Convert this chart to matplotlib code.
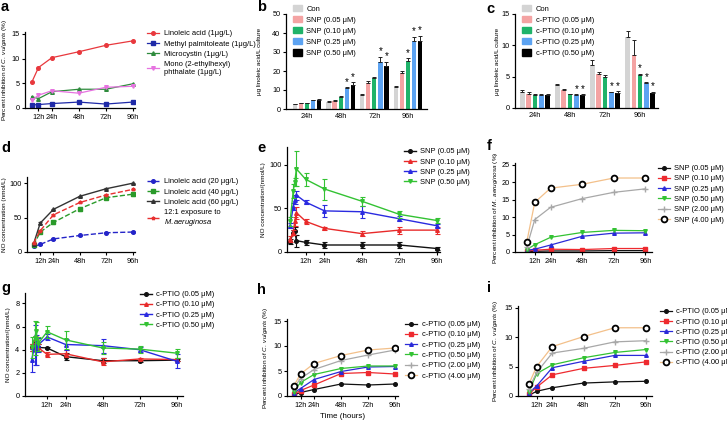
import numpy as np
import matplotlib
matplotlib.use('Agg')
import matplotlib.pyplot as plt
from matplotlib.patches import Patch

plt.rcParams['font.family'] = ['Liberation Sans', 'DejaVu Sans']
plt.rcParams['mathtext.fontset'] = 'custom'
plt.rcParams['mathtext.it'] = 'Liberation Sans:italic'
plt.rcParams['mathtext.rm'] = 'Liberation Sans'

W, H = 727, 421

# ---- data ----
hours = [12, 24, 48, 72, 96]
hour_labels = ['12h', '24h', '48h', '72h', '96h']
t6 = [6, 12, 24, 48, 72, 96]                 # sampling times for a, d, f, h, i
t_fast = [2, 4, 5, 6, 12, 24, 48, 72, 96]    # sampling times for e, g
bar_groups = ['24h', '48h', '72h', '96h']

# a: percent inhibition of C. vulgaris
a_labels = ['Linoleic acid (1μg/L)', 'Methyl palmitoleate (1μg/L)', 'Microcystin (1μg/L)',
            'Mono (2-ethylhexyl)\nphthalate (1μg/L)']
a_vals = [[5.2, 8.2, 10.2, 11.4, 12.7, 13.6],
          [0.6, 0.7, 0.9, 1.2, 0.8, 1.2],
          [2.3, 1.9, 3.3, 3.8, 3.8, 4.9],
          [1.6, 2.6, 3.5, 3.0, 4.2, 4.4]]

# b: linoleic acid with SNP
b_labels = ['Con', 'SNP (0.05 μM)', 'SNP (0.10 μM)', 'SNP (0.25 μM)', 'SNP (0.50 μM)']
b_vals = [[2.5, 3.8, 7.3, 11.5],
          [3.0, 4.2, 13.5, 19.0],
          [3.0, 6.3, 16.5, 25.5],
          [4.5, 11.0, 25.0, 36.0],
          [4.5, 12.5, 22.5, 36.0]]
b_errs = [[0.3, 0.4, 0.4, 0.8],
          [0.3, 0.3, 1.0, 0.8],
          [0.3, 0.3, 0.4, 1.3],
          [0.5, 0.5, 2.5, 2.0],
          [0.8, 1.5, 2.5, 2.5]]
b_stars = [(1, 3), (1, 4), (2, 3), (2, 4), (3, 2), (3, 3), (3, 4)]

# c: linoleic acid with c-PTIO
c_labels = ['Con', 'c-PTIO (0.05 μM)', 'c-PTIO (0.10 μM)', 'c-PTIO (0.25 μM)', 'c-PTIO (0.50 μM)']
c_vals = [[2.6, 3.7, 6.8, 11.3],
          [2.3, 2.9, 5.5, 8.5],
          [2.1, 2.2, 4.9, 5.3],
          [2.0, 2.1, 2.5, 4.0],
          [2.0, 2.1, 2.4, 2.4]]
c_errs = [[0.2, 0.2, 0.9, 1.0],
          [0.2, 0.1, 0.2, 2.3],
          [0.1, 0.1, 0.3, 0.2],
          [0.2, 0.1, 0.1, 0.1],
          [0.3, 0.1, 0.3, 0.2]]
c_stars = [(1, 3), (1, 4), (2, 3), (2, 4), (3, 2), (3, 3), (3, 4)]

# d: NO concentration with linoleic acid
d_labels = ['Linoleic acid (20 μg/L)', 'Linoleic acid (40 μg/L)', 'Linoleic acid (60 μg/L)',
            '12:1 exposure to\n$\\it{M.aeruginosa}$']
d_vals = [[8, 11, 19, 24, 28, 29],
          [10, 29, 43, 63, 79, 84],
          [12, 42, 62, 81, 92, 100],
          [13, 31, 54, 72, 83, 91]]
d_errs = [[1, 1, 1, 1, 1, 1],
          [2, 2, 2, 3, 2, 3],
          [1, 1, 1, 1, 1, 1],
          [1, 1, 1, 1, 1, 1]]

# e: NO concentration with SNP
e_labels = ['SNP (0.05 μM)', 'SNP (0.10 μM)', 'SNP (0.25 μM)', 'SNP (0.50 μM)']
e_vals = [[12, 22, 24, 13, 11, 8, 8, 8, 4],
          [15, 22, 35, 45, 35, 27, 21, 25, 25],
          [30, 52, 60, 65, 57, 47, 46, 38, 30],
          [35, 70, 80, 95, 83, 72, 58, 43, 36]]
e_errs = [[3, 3, 5, 7, 3, 3, 3, 3, 2],
          [3, 3, 5, 7, 3, 2, 3, 4, 4],
          [3, 4, 5, 5, 2, 7, 7, 3, 2],
          [5, 8, 5, 20, 7, 12, 5, 4, 3]]

# f: percent inhibition of M. aeruginosa with SNP
f_labels = ['SNP (0.05 μM)', 'SNP (0.10 μM)', 'SNP (0.25 μM)', 'SNP (0.50 μM)',
            'SNP (2.00 μM)', 'SNP (4.00 μM)']
f_vals = [[0.1, 0.2, 0.3, 0.3, 0.4, 0.4],
          [0.3, 0.5, 0.8, 0.7, 1.0, 1.0],
          [0.5, 0.8, 2.0, 4.5, 5.4, 5.5],
          [0.7, 2.1, 4.2, 5.6, 6.2, 6.1],
          [1.5, 9.3, 12.8, 15.3, 17.1, 18.1],
          [3.0, 14.2, 18.3, 19.4, 21.2, 21.2]]

# g: NO concentration with c-PTIO
g_labels = ['c-PTIO (0.05 μM)', 'c-PTIO (0.10 μM)', 'c-PTIO (0.25 μM)', 'c-PTIO (0.50 μM)']
g_vals = [[4.2, 4.4, 4.3, 4.2, 4.15, 3.4, 3.05, 3.05, 3.1],
          [4.2, 4.9, 4.6, 4.2, 3.6, 3.65, 2.95, 3.2, 3.15],
          [3.1, 4.4, 4.0, 4.4, 5.1, 4.45, 4.35, 4.0, 3.0],
          [4.2, 5.0, 5.6, 4.5, 5.55, 4.85, 4.15, 4.05, 3.7]]
g_errs = [[0.3, 0.3, 0.3, 0.3, 0.1, 0.3, 0.2, 0.1, 0.1],
          [0.3, 0.3, 0.3, 0.3, 0.2, 0.3, 0.3, 0.1, 0.1],
          [1.0, 1.7, 1.3, 0.6, 0.3, 0.5, 0.6, 0.2, 0.6],
          [0.9, 1.5, 0.8, 0.6, 0.5, 0.8, 0.5, 0.3, 0.4]]

# h, i: percent inhibition of C. vulgaris with c-PTIO
hi_labels = ['c-PTIO (0.05 μM)', 'c-PTIO (0.10 μM)', 'c-PTIO (0.25 μM)', 'c-PTIO (0.50 μM)',
             'c-PTIO (2.00 μM)', 'c-PTIO (4.00 μM)']
h_vals = [[0.2, 0.7, 1.3, 2.4, 2.2, 2.4],
          [0.4, 1.1, 2.2, 4.5, 4.7, 4.4],
          [0.6, 1.5, 3.3, 4.9, 5.8, 5.9],
          [0.9, 2.7, 4.3, 5.5, 6.0, 6.0],
          [1.6, 3.5, 5.3, 7.1, 8.2, 9.2],
          [2.0, 4.4, 6.5, 8.1, 9.2, 9.6]]
i_vals = [[0.1, 0.8, 1.4, 2.2, 2.4, 2.5],
          [0.3, 1.5, 3.6, 4.7, 5.2, 5.8],
          [0.5, 1.7, 4.8, 5.9, 6.9, 6.9],
          [0.6, 3.8, 5.3, 6.5, 7.4, 7.9],
          [1.2, 4.0, 7.3, 8.1, 9.2, 9.4],
          [2.0, 5.0, 8.4, 10.1, 11.6, 11.6]]

bar_colors = ['#d4d4d4', '#f4a3a3', '#1fb36a', '#5ca3f2', '#000000']
six_colors = ['#111111', '#ee2a2f', '#2a2ad8', '#33c233', '#a8a8a8', '#f3c08a']
six_markers = ['o', 's', '^', 'v', '+', 'o']

YL = 4.6   # y label size


def px_axes(fig, l, t, r, b):
# make axes from pixel box (left, top, right, bottom)
	return fig.add_axes([l / W, 1 - b / H, (r - l) / W, (b - t) / H])


def ylab(ax, text, x_px):
# y label whose centre sits at pixel column x_px
	ax.set_ylabel(text, fontsize=YL)
	pos = ax.get_position()
	ax.yaxis.set_label_coords((x_px + 2.5 - pos.x0 * W) / (pos.width * W), 0.5)


def style(ax, ylim, yticks, xlim=None, time_axis=True):
	for s in ['top', 'right']:
		ax.spines[s].set_visible(False)
	for s in ['left', 'bottom']:
		ax.spines[s].set_linewidth(0.9)
	ax.tick_params(labelsize=5.3, length=2.5, width=0.8, pad=1.5)
	ax.set_ylim(*ylim)
	ax.set_yticks(yticks)
	if time_axis:
		ax.set_xticks(hours)
		ax.set_xticklabels(hour_labels)
		ax.set_xlim(*xlim)


def legend(ax, x, y, handles=None, labels=None, **kw):
# legend with its upper left corner at pixel (x, y)
	opts = dict(loc='upper left', bbox_to_anchor=(x / W, 1 - y / H), bbox_transform=ax.figure.transFigure,
				frameon=False, fontsize=5.4, borderpad=0, borderaxespad=0, handlelength=1.6,
				handletextpad=0.6, labelspacing=0.4)
	opts.update(kw)
	if handles is None:
		ax.legend(**opts)
	else:
		ax.legend(handles, labels, **opts)


def err_lines(ax, t, vals, errs, labels, cols, marks, styles=None, cap=1.8):
# error bars first, then the lines so the legend shows plain line + marker
	for k in range(len(vals)):
		ls = '-' if styles is None else styles[k]
		ax.errorbar(t, vals[k], yerr=errs[k], fmt='none', ecolor=cols[k], capsize=cap,
					elinewidth=0.8, capthick=0.8)
		ax.plot(t, vals[k], color=cols[k], marker=marks[k], ms=2.6, lw=1, ls=ls, label=labels[k])


def bar_panel(ax, vals, errs, labels, stars, ymax):
	pitch, width = 0.18, 0.13
	for k in range(5):
		x = np.arange(4) + (k - 2) * pitch
		ax.bar(x, vals[k], width, color=bar_colors[k])
		ax.errorbar(x, vals[k], yerr=[np.zeros(4), errs[k]], fmt='none', ecolor='#222222',
					elinewidth=0.7, capsize=1.3, capthick=0.7)
	for g, k in stars:
		x = g + (k - 2) * pitch
		ax.text(x, vals[k][g] + errs[k][g] + ymax * 0.005, '*', ha='center', va='bottom', fontsize=7)
	ax.set_xticks(range(4))
	ax.set_xticklabels(bar_groups)
	handles = [Patch(color=c) for c in bar_colors]
	return handles


def six_panel(ax, vals, labels):
# six concentration series with GraphPad style markers
	for k in range(6):
		if k == 5:
			ax.plot(t6, vals[k], color=six_colors[k], lw=0.9, marker='o', ms=4.2, mfc='white',
					mec='black', mew=1.3, label=labels[k], zorder=4)
		elif k == 4:
			ax.plot(t6, vals[k], color=six_colors[k], lw=0.9, marker='+', ms=4, mew=1,
					label=labels[k])
		else:
			ax.plot(t6, vals[k], color=six_colors[k], lw=0.9, marker=six_markers[k], ms=2.6,
					label=labels[k])


fig = plt.figure(figsize=(W / 100, H / 100), dpi=100)

# ---- a ----
ax = px_axes(fig, 25, 32, 135, 108)
cols = ['#e8383d', '#1f2aa8', '#2e8b3c', '#e673e0']
marks = ['o', 's', '^', 'v']
for k in range(4):
	ax.plot(t6, a_vals[k], color=cols[k], marker=marks[k], ms=2.6, lw=0.9, label=a_labels[k])
style(ax, (0, 15.4), [0, 5, 10, 15], (0, 98))
ylab(ax, 'Percent inhibition of $\\it{C.\\ vulgaris}$ (%)', 7)
legend(ax, 147, 30)

# ---- b ----
ax = px_axes(fig, 286, 14, 427, 109)
hd = bar_panel(ax, b_vals, b_errs, b_labels, b_stars, 50)
style(ax, (0, 50), [0, 10, 20, 30, 40, 50], time_axis=False)
ax.tick_params(axis='x', length=0, pad=3)
ax.set_xlim(-0.63, 3.57)
ylab(ax, 'μg linoleic acid/L culture', 259)
legend(ax, 293, 5, hd, b_labels, handlelength=1.2, handleheight=0.9, labelspacing=0.45)

# ---- c ----
ax = px_axes(fig, 515, 14, 658, 108)
hd = bar_panel(ax, c_vals, c_errs, c_labels, c_stars, 15)
style(ax, (0, 15), [0, 5, 10, 15], time_axis=False)
ax.tick_params(axis='x', length=0, pad=3)
ax.set_xlim(-0.57, 3.51)
ylab(ax, 'μg linoleic acid/L culture', 498)
legend(ax, 522, 5, hd, c_labels, handlelength=1.2, handleheight=0.9, labelspacing=0.45)

# ---- d ----
ax = px_axes(fig, 27, 177, 135, 252)
err_lines(ax, t6, d_vals, d_errs, d_labels, ['#2424c8', '#2a9a2a', '#333333', '#e83030'],
		  ['o', 's', '^', '*'], ['--', '--', '-', '--'], cap=1.3)
style(ax, (0, 109), [0, 50, 100], (0, 98))
ylab(ax, 'NO concentration (nmol/L)', 5)
legend(ax, 147, 178)

# ---- e ----
ax = px_axes(fig, 287, 147, 440, 252)
cols = ['#111111', '#e82a2a', '#2a2ae0', '#33c233']
marks = ['o', '^', '^', 'v']
err_lines(ax, t_fast, e_vals, e_errs, e_labels, cols, marks)
style(ax, (0, 120), [0, 50, 100], (0, 98))
ylab(ax, 'NO concentration/(nmol/L)', 263)
legend(ax, 404, 148)

# ---- f ----
ax = px_axes(fig, 515, 163, 652, 252)
six_panel(ax, f_vals, f_labels)
style(ax, (0, 25.5), [0, 5, 10, 15, 20, 25], (-3, 101))
ylab(ax, 'Percent inhibition of $\\it{M.\\ aeruginosa}$ (%)', 497)
legend(ax, 658, 165)

# ---- g ----
ax = px_axes(fig, 25, 293, 183, 396)
err_lines(ax, t_fast, g_vals, g_errs, g_labels, cols, marks)
style(ax, (0, 8.9), [0, 2, 4, 6, 8], (-2.3, 100))
ylab(ax, 'NO concentration/(nmol/L)', 9)
legend(ax, 140, 291)

# ---- h ----
ax = px_axes(fig, 287, 319, 398, 396)
six_panel(ax, h_vals, hi_labels)
style(ax, (0, 15.4), [0, 5, 10, 15], (0, 98.5))
ylab(ax, 'Percent inhibition of $\\it{C.\\ vulgaris}$ (%)', 267)
ax.set_xlabel('Time (hours)', fontsize=5.8, labelpad=3)
legend(ax, 405, 321)

# ---- i ----
ax = px_axes(fig, 518, 306, 652, 396)
six_panel(ax, i_vals, hi_labels)
style(ax, (0, 15.3), [0, 5, 10, 15], (-2.3, 100.6))
ylab(ax, 'Percent inhibition of $\\it{C.\\ vulgaris}$ (%)', 498)
legend(ax, 660, 308)

# panel letters
for letter, x, y in [('a', 1, 0), ('b', 257, 0), ('c', 486, 2), ('d', 1, 141), ('e', 257, 141),
					 ('f', 487, 139), ('g', 1, 281), ('h', 257, 283), ('i', 487, 281)]:
	fig.text(x / W, 1 - y / H, letter, fontsize=10.5, fontweight='bold', va='top', ha='left')

fig.savefig('out.png', dpi=100)
